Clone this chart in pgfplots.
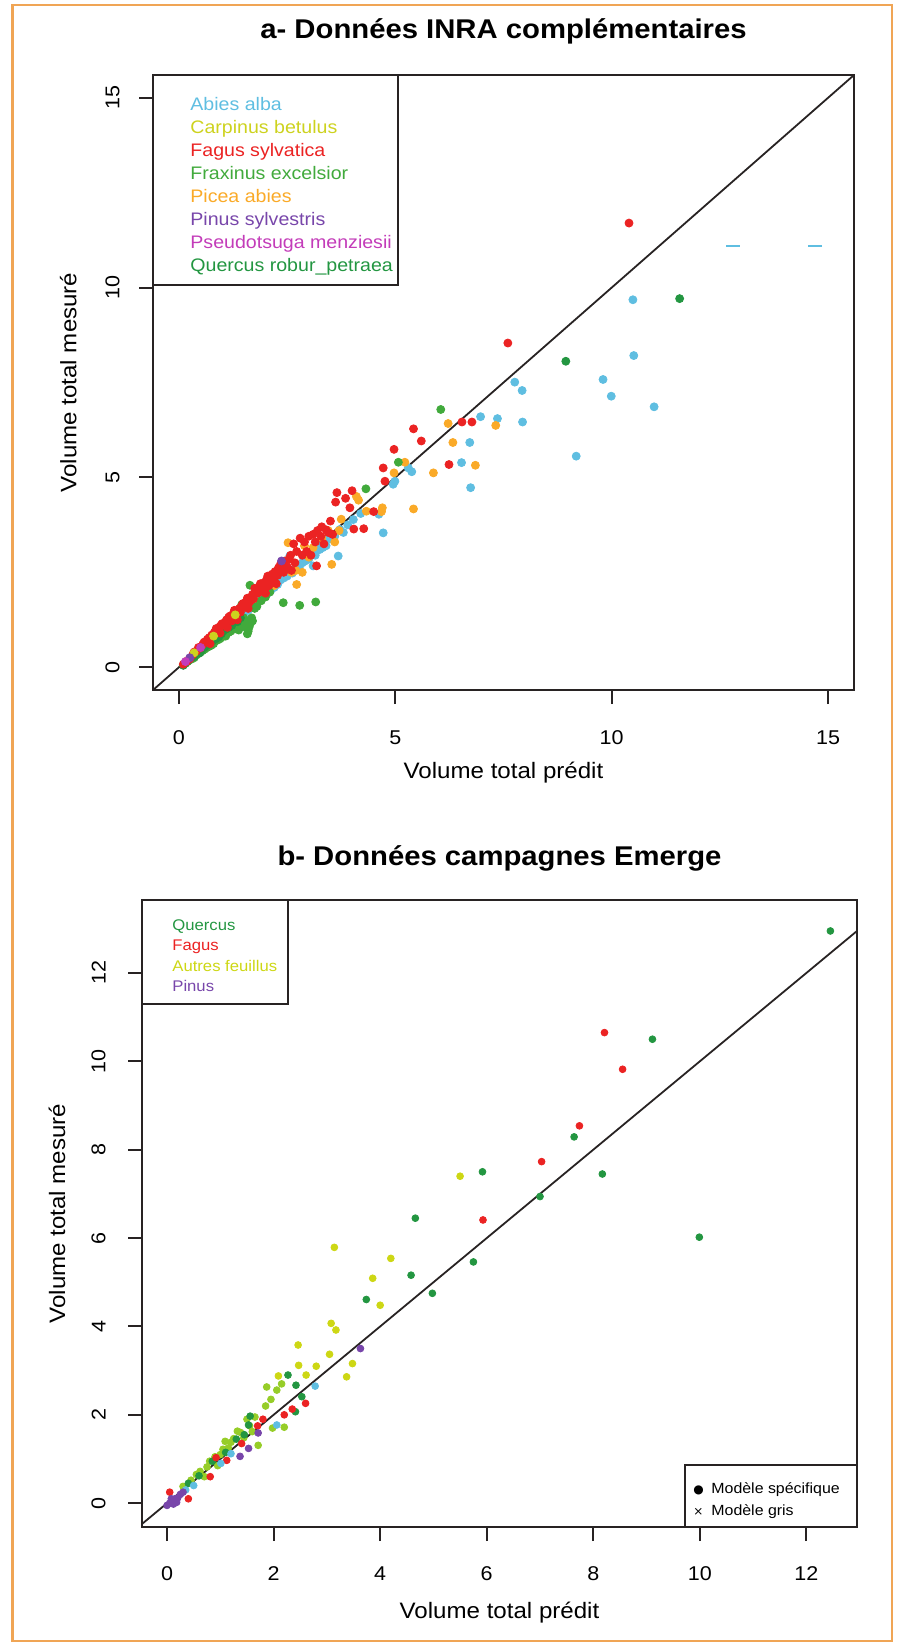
\documentclass[border=0pt]{standalone}
\usepackage{fontspec}
\setmainfont{Liberation Sans}[FakeStretch=1.08]
\newfontfamily\sym{DejaVu Sans}
\usepackage{pgfplots}
\pgfplotsset{compat=1.18}

\definecolor{cabies}{RGB}{95,190,225}
\definecolor{ccarp}{RGB}{205,210,30}
\definecolor{cfagus}{RGB}{235,35,35}
\definecolor{cfrax}{RGB}{65,170,60}
\definecolor{cpicea}{RGB}{250,170,40}
\definecolor{cpinus}{RGB}{120,70,170}
\definecolor{cpseudo}{RGB}{195,60,185}
\definecolor{cquerc}{RGB}{35,150,65}
\definecolor{cautres}{RGB}{205,215,20}
\definecolor{clime}{RGB}{150,205,40}
\definecolor{cframe}{RGB}{40,35,35}
\definecolor{cborder}{RGB}{240,165,85}

\pgfplotsset{
  rplot/.style={
    scale only axis,
    anchor=south west,
    clip=true,
    axis line style={cframe, line width=1bp},
    every tick/.style={cframe, line width=1bp},
    tick align=outside,
    major tick length=7bp,
    tick pos=left,
    tick label style={font=\fontsize{10}{12}\selectfont},
    /pgf/number format/assume math mode=true,
    xticklabel style={anchor=north, inner sep=0pt},
    yticklabel style={rotate=90, anchor=south, inner sep=0pt},
    label style={font=\fontsize{11.2}{13}\selectfont},
    title style={font=\bfseries\fontsize{13.6}{16}\selectfont, anchor=center},
  },
  pt/.style={only marks, mark=*, mark size=2bp, color=#1},
  ptb/.style={only marks, mark=*, mark size=1.7bp, color=#1},
}

\begin{document}
\begin{tikzpicture}
% pixel grid of the reference: 1 px = 0.5bp, y downwards
\begin{scope}[x=0.5bp, y=-0.5bp]
\useasboundingbox (0,0) rectangle (900,1648);
\draw[cborder, line width=1.3bp] (12.5,5) rectangle (892,1641);
\end{scope}

% ---- a- INRA
\begin{axis}[rplot,
  at={(76.5bp,-345bp)}, width=350.5bp, height=307.5bp,
  xmin=-0.6, xmax=15.6, ymin=-0.6, ymax=15.6,
  xtick={0,5,10,15}, ytick={0,5,10,15},
  xticklabel shift=13bp, yticklabel shift=9.5bp,
  title={a- Données INRA complémentaires},
  title style={at={(axis description cs:0.5,1.052)}},
  xlabel={Volume total prédit},
  xlabel style={at={(axis description cs:0.5,-0.135)}, anchor=center},
  ylabel={Volume total mesuré},
  ylabel style={at={(axis description cs:-0.121,0.5)}, anchor=center},
]
\addplot[cframe, line width=0.9bp] coordinates {(-1,-1) (16,16)};

% Abies alba
\addplot[pt=cabies] coordinates {
(0.15,0.12) (0.30,0.25) (0.45,0.40) (0.60,0.55) (0.75,0.72) (0.90,0.85)
(1.05,1.00) (1.20,1.12) (1.35,1.30) (1.50,1.42) (1.70,1.65) (1.85,1.78)
(2.05,1.95) (2.20,2.10) (2.35,2.30) (2.50,2.40) (2.56,2.93) (2.70,2.60)
(2.85,2.75) (3.00,2.85) (3.10,2.67) (3.18,3.28) (3.25,3.10) (3.40,3.20)
(3.53,3.37) (3.68,2.93) (3.72,3.63) (3.80,3.55) (4.03,3.89) (4.20,4.05)
(4.62,4.03) (4.72,3.54) (4.95,4.82) (4.99,4.90) (5.30,5.25) (5.38,5.15)
(6.53,5.39) (6.72,5.92) (6.74,4.73) (6.97,6.60) (7.36,6.55) (7.76,7.51)
(7.93,7.29) (7.94,6.46) (9.18,5.56) (9.80,7.58) (9.99,7.14) (10.49,9.68)
(10.51,8.21) (10.98,6.86)
(1.60,1.50) (1.78,1.70) (1.95,1.90) (2.12,2.02) (2.28,2.18) (2.42,2.35)
(2.62,2.48) (2.78,2.62) (2.92,2.80) (3.05,3.00) (3.15,2.95) (3.32,3.15)
(3.45,3.40) (3.60,3.45) (3.90,3.75) (1.10,1.05) (1.28,1.22)
};
\addplot[only marks, mark=-, mark size=3.5bp, line width=1.2bp, color=cabies]
  coordinates {(12.8,11.1) (14.7,11.1)};

% Picea abies
\addplot[pt=cpicea] coordinates {
(0.20,0.18) (0.55,0.50) (1.00,0.95) (1.40,1.35) (1.80,1.72) (2.20,2.15)
(2.52,3.28) (2.60,2.50) (2.70,2.55) (2.72,2.18) (2.90,3.20) (3.00,2.90)
(3.30,3.40) (3.53,2.71) (3.60,3.30) (3.75,3.90) (4.10,4.50) (4.15,4.40)
(4.33,4.11) (4.68,4.10) (4.70,4.20) (4.97,5.12) (5.22,5.40) (5.42,4.17)
(5.88,5.12) (6.22,6.42) (6.33,5.92) (6.85,5.32) (7.32,6.37)
(2.40,2.55) (2.85,2.50) (3.10,3.15) (3.45,3.60) (3.70,3.60)
};

% Fraxinus excelsior
\addplot[pt=cfrax] coordinates {
(0.20,0.15) (0.30,0.22) (0.40,0.32) (0.50,0.40) (0.60,0.48) (0.70,0.55)
(0.80,0.62) (0.90,0.72) (1.00,0.80) (1.10,0.88) (1.20,0.95) (1.30,1.02)
(1.40,1.12) (1.45,1.22) (1.55,1.05) (1.60,0.95) (1.65,1.15) (1.68,1.30)
(1.50,1.30) (1.25,1.10) (1.05,0.92) (0.85,0.70) (1.64,2.16) (2.41,1.70)
(2.79,1.63) (3.16,1.72) (4.32,4.70) (5.07,5.40) (6.05,6.79) (1.80,1.60)
(2.00,1.85) (1.45,1.65) (2.20,2.35)
(0.25,0.20) (0.35,0.25) (0.45,0.36) (0.55,0.44) (0.65,0.52) (0.75,0.58)
(0.82,0.68) (0.95,0.75) (1.08,0.82) (1.15,0.92) (1.22,1.02) (1.35,1.08)
(1.38,0.98) (1.48,1.15) (1.52,1.10) (1.58,1.20) (1.62,1.05) (1.70,1.22)
(1.58,0.88) (1.10,1.00) (0.95,0.92) (1.28,1.18) (1.75,1.55) (1.90,1.75)
(2.10,1.98)
};

% Quercus robur_petraea
\addplot[pt=cquerc] coordinates {
(0.10,0.05) (0.22,0.18) (0.35,0.28) (0.48,0.38) (0.58,0.52) (0.68,0.60)
(0.78,0.70) (0.92,0.80) (1.02,0.95) (1.15,1.05) (1.35,1.20) (0.65,0.70)
(8.94,8.06) (11.57,9.71)
(0.15,0.10) (0.28,0.25) (0.42,0.36) (0.52,0.45) (0.62,0.56) (0.72,0.66)
(0.85,0.75) (0.98,0.88) (1.08,1.00) (1.22,1.10) (1.30,1.25) (1.42,1.30)
};

% Fagus sylvatica
\addplot[pt=cfagus] coordinates {
(0.10,0.08) (0.18,0.15) (0.25,0.22) (0.32,0.33) (0.40,0.42) (0.48,0.50)
(0.55,0.60) (0.62,0.68) (0.70,0.78) (0.76,0.85) (0.82,0.92) (0.88,0.98)
(0.95,1.08) (1.00,1.15) (1.05,1.10) (1.10,1.25) (1.15,1.32) (1.20,1.28)
(1.25,1.40) (1.30,1.48) (1.35,1.42) (1.40,1.55) (1.45,1.62) (1.50,1.58)
(1.55,1.72) (1.60,1.80) (1.65,1.75) (1.70,1.92) (1.78,2.02) (1.85,2.10)
(1.90,2.00) (1.95,2.22) (2.02,2.30) (2.10,2.25) (2.15,2.45) (2.22,2.52)
(2.30,2.62) (2.38,2.58) (2.45,2.80) (2.55,2.85) (2.65,3.25) (2.72,3.05)
(2.80,3.40) (2.90,3.30) (3.00,3.45) (3.10,3.50) (3.20,3.60) (3.30,3.70)
(3.40,3.62) (3.50,3.85) (3.62,4.35) (3.65,4.60) (3.85,4.45) (4.00,4.65)
(4.04,3.64) (4.27,3.65) (4.50,4.10) (3.95,4.20) (4.72,5.25) (4.76,4.90)
(4.97,5.74) (5.42,6.28) (5.60,5.96) (6.24,5.34) (6.54,6.46) (6.77,6.46)
(7.60,8.54) (10.40,11.70) (1.12,1.05) (0.95,0.90) (1.35,1.25) (1.60,1.55)
(2.00,1.95) (2.25,2.20) (2.60,2.55) (3.05,2.95) (3.35,3.25) (0.72,0.62)
(3.18,2.67)
(0.35,0.40) (0.45,0.52) (0.58,0.66) (0.66,0.74) (0.80,0.88) (0.86,1.02)
(0.92,1.00) (0.98,1.12) (1.08,1.20) (1.18,1.35) (1.22,1.22) (1.28,1.50)
(1.38,1.50) (1.42,1.45) (1.48,1.68) (1.52,1.65) (1.58,1.82) (1.62,1.70)
(1.68,1.85) (1.72,1.80) (1.75,2.08) (1.82,1.95) (1.88,2.20) (1.92,2.12)
(1.98,2.05) (2.05,2.40) (2.08,2.15) (2.12,2.35) (2.18,2.28) (2.28,2.42)
(2.35,2.72) (2.42,2.50) (2.50,2.65) (2.58,2.95) (2.68,2.75) (2.85,2.95)
(2.95,3.05) (3.15,3.30) (3.28,3.45) (3.45,3.55) (3.55,3.50)
};

% Carpinus betulus, Pinus sylvestris, Pseudotsuga menziesii
\addplot[pt=ccarp] coordinates {(0.35,0.38) (0.80,0.82) (1.30,1.38)};
\addplot[pt=cpinus] coordinates {(2.37,2.80) (0.25,0.25)};
\addplot[pt=cpseudo] coordinates {(0.15,0.15) (0.50,0.52)};
\end{axis}

% ---- b- Emerge
\begin{axis}[rplot,
  at={(71bp,-763.5bp)}, width=357.5bp, height=313.5bp,
  xmin=-0.47, xmax=12.95, ymin=-0.54, ymax=13.65,
  xtick={0,2,...,12}, ytick={0,2,...,12},
  xticklabel shift=12.5bp, yticklabel shift=11bp,
  title={b- Données campagnes Emerge},
  title style={at={(axis description cs:0.5,1.048)}},
  xlabel={Volume total prédit},
  xlabel style={at={(axis description cs:0.5,-0.137)}, anchor=center},
  ylabel={Volume total mesuré},
  ylabel style={at={(axis description cs:-0.119,0.5)}, anchor=center},
]
\addplot[cframe, line width=0.9bp] coordinates {(-1,-1) (14,14)};

% Autres feuillus
\addplot[ptb=cautres] coordinates {
(5.50,7.40) (3.14,5.79) (4.20,5.54) (3.86,5.09) (4.00,4.48) (3.08,4.07)
(3.17,3.92) (2.46,3.58) (3.05,3.37) (2.47,3.12) (3.48,3.16) (2.09,2.88)
(2.61,2.90) (3.37,2.86) (2.80,3.10)
};
\addplot[ptb=clime] coordinates {
(1.87,2.63) (2.06,2.56) (2.20,1.72) (1.98,1.70) (1.32,1.63) (1.09,1.40)
(1.25,1.46) (1.44,1.48) (1.71,1.31) (1.00,1.10) (0.80,0.95) (0.62,0.72)
(0.45,0.52) (1.60,1.62) (1.15,1.25) (0.70,0.60) (0.95,0.85) (1.85,2.20)
(1.50,1.90)
(0.30,0.38) (0.55,0.65) (0.75,0.82) (0.90,1.05) (1.05,1.22) (1.20,1.38)
(1.38,1.60) (1.55,1.75) (1.65,1.95) (1.95,2.35) (2.15,2.70)
};
% Quercus
\addplot[ptb=cquerc] coordinates {
(12.45,12.95) (9.11,10.50) (7.64,8.29) (5.92,7.50) (8.17,7.45) (7.00,6.94)
(4.66,6.45) (9.99,6.02) (5.75,5.46) (4.58,5.16) (4.98,4.75) (3.74,4.61)
(2.27,2.90) (2.42,2.67) (2.53,2.41) (2.41,2.07) (1.53,1.77) (1.56,1.97)
(1.30,1.45) (1.10,1.15) (0.85,0.95) (0.60,0.62) (0.40,0.45) (1.45,1.55)
};
% Fagus
\addplot[ptb=cfagus] coordinates {
(8.21,10.65) (8.55,9.82) (7.74,8.54) (7.03,7.73) (5.93,6.41) (2.60,2.26)
(2.35,2.13) (2.20,2.00) (1.80,1.90) (1.70,1.75) (0.92,1.03) (1.12,0.97)
(0.81,0.60) (0.05,0.25) (0.40,0.10) (1.40,1.35)
};
% other
\addplot[ptb=cabies] coordinates {
(2.78,2.65) (2.06,1.77) (1.01,0.90) (0.50,0.40) (0.35,0.30) (1.20,1.12)
};
% Pinus
\addplot[ptb=cpinus] coordinates {
(3.63,3.50) (1.71,1.59) (1.53,1.24) (1.37,1.06) (0.10,0.05) (0.05,0.00)
(0.15,0.10) (0.20,0.12) (0.00,-0.05) (0.25,0.20) (0.12,-0.02) (0.30,0.25)
(0.18,0.02) (0.08,0.10)
};
\end{axis}

% legends, in reference pixels
\begin{scope}[x=0.5bp, y=-0.5bp]
\draw[cframe, line width=1bp] (153,75) rectangle (398,285);
\node[anchor=north west, inner sep=0pt, align=left,
      font=\fontsize{9.1}{11.55}\selectfont] at (190,96.5) {%
\textcolor{cabies}{Abies alba}\\
\textcolor{ccarp}{Carpinus betulus}\\
\textcolor{cfagus}{Fagus sylvatica}\\
\textcolor{cfrax}{Fraxinus excelsior}\\
\textcolor{cpicea}{Picea abies}\\
\textcolor{cpinus}{Pinus sylvestris}\\
\textcolor{cpseudo}{Pseudotsuga menziesii}\\
\textcolor{cquerc}{Quercus robur\_petraea}};

\draw[cframe, line width=1bp] (142,900) rectangle (288,1004);
\node[anchor=north west, inner sep=0pt, align=left,
      font=\fontsize{7.75}{10.25}\selectfont] at (172,919) {%
\textcolor{cquerc}{Quercus}\\
\textcolor{cfagus}{Fagus}\\
\textcolor{cautres}{Autres feuillus}\\
\textcolor{cpinus}{Pinus}};

\draw[cframe, line width=1bp] (685,1527) -- (685,1465) -- (857,1465);
\node[anchor=north west, inner sep=0pt, align=left,
      font=\fontsize{7.4}{11}\selectfont] at (693,1482.5) {%
\makebox[9bp][l]{\sym\fontsize{6}{6}\selectfont ●}Modèle spécifique\\
\makebox[9bp][l]{\sym\fontsize{6}{6}\selectfont ×}Modèle gris};
\end{scope}
\end{tikzpicture}
\end{document}
